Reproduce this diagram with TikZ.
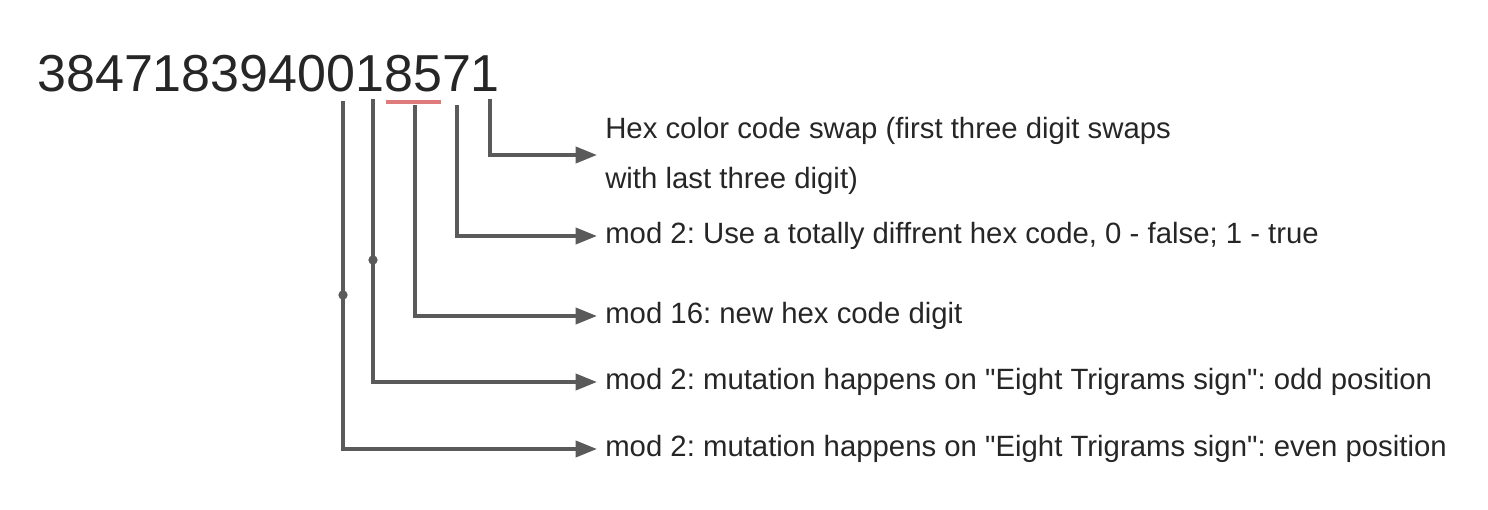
\documentclass[tikz,border=0pt]{standalone}
\usepackage{fontspec}
\setmainfont{Liberation Sans}[Ligatures=TeXOff]
\frenchspacing
\usetikzlibrary{positioning, arrows.meta, calc}
\definecolor{linegray}{HTML}{5A5A5A}
\definecolor{txtgray}{HTML}{262626}
\definecolor{markred}{HTML}{E07B7B}
\tikzset{main node/.style={anchor=base west, inner sep=0pt, text=txtgray, font=\fontsize{22pt}{37.5pt}\selectfont},
  digit node/.style={anchor=base west, inner sep=0pt, text=txtgray, font=\fontsize{39pt}{40pt}\selectfont},
  pointer/.style={draw=linegray, line width=2.8pt, -{Triangle[length=16pt, width=12pt]}},
  joint/.style={circle, fill=linegray, inner sep=0pt, minimum size=7pt},}

\begin{document}
\begin{tikzpicture}[x=0.75pt, y=-0.75pt]
			\useasboundingbox (0,0) rectangle (1488,510);
			% Number
			\node[digit node] (num) at (37,91) {3847183940018571};
			\draw[markred, line width=3pt] (386,102) -- (441,102);
			% Starts
			\coordinate (s1) at (343,101);
			\coordinate (s2) at (373,99);
			\coordinate (s3) at (415,105);
			\coordinate (s4) at (457,105);
			\coordinate (s5) at (490,99);
			% Labels
			\node[main node] (t5) at (605,138) {Hex color code swap (first three digit swaps};
			\node[main node] (t6) at (605,188) {with last three digit)};
			\node[main node] (t4) at (605,243) {mod 2: Use a totally diffrent hex code, 0 - false; 1 - true};
			\node[main node] (t3) at (605,323) {mod 16: new hex code digit};
			\node[main node] (t2) at (605,389) {mod 2: mutation happens on "Eight Trigrams sign": odd position};
			\node[main node] (t1) at (605,456) {mod 2: mutation happens on "Eight Trigrams sign": even position};
			% Paths
			\draw[pointer] (s5) |- ($(t5.base west)!0.5!(t6.base west)+(-8,-8)$);
			\draw[pointer] (s4) |- ($(t4.base west)+(-8,-7)$);
			\draw[pointer] (s3) |- ($(t3.base west)+(-8,-7)$);
			\draw[pointer] (s2) |- ($(t2.base west)+(-8,-7)$);
			\draw[pointer] (s1) |- ($(t1.base west)+(-8,-7)$);
			\node[joint] (j2) at (373,260) {};
			\node[joint] (j1) at (343,295) {};
		\end{tikzpicture}
\end{document}
